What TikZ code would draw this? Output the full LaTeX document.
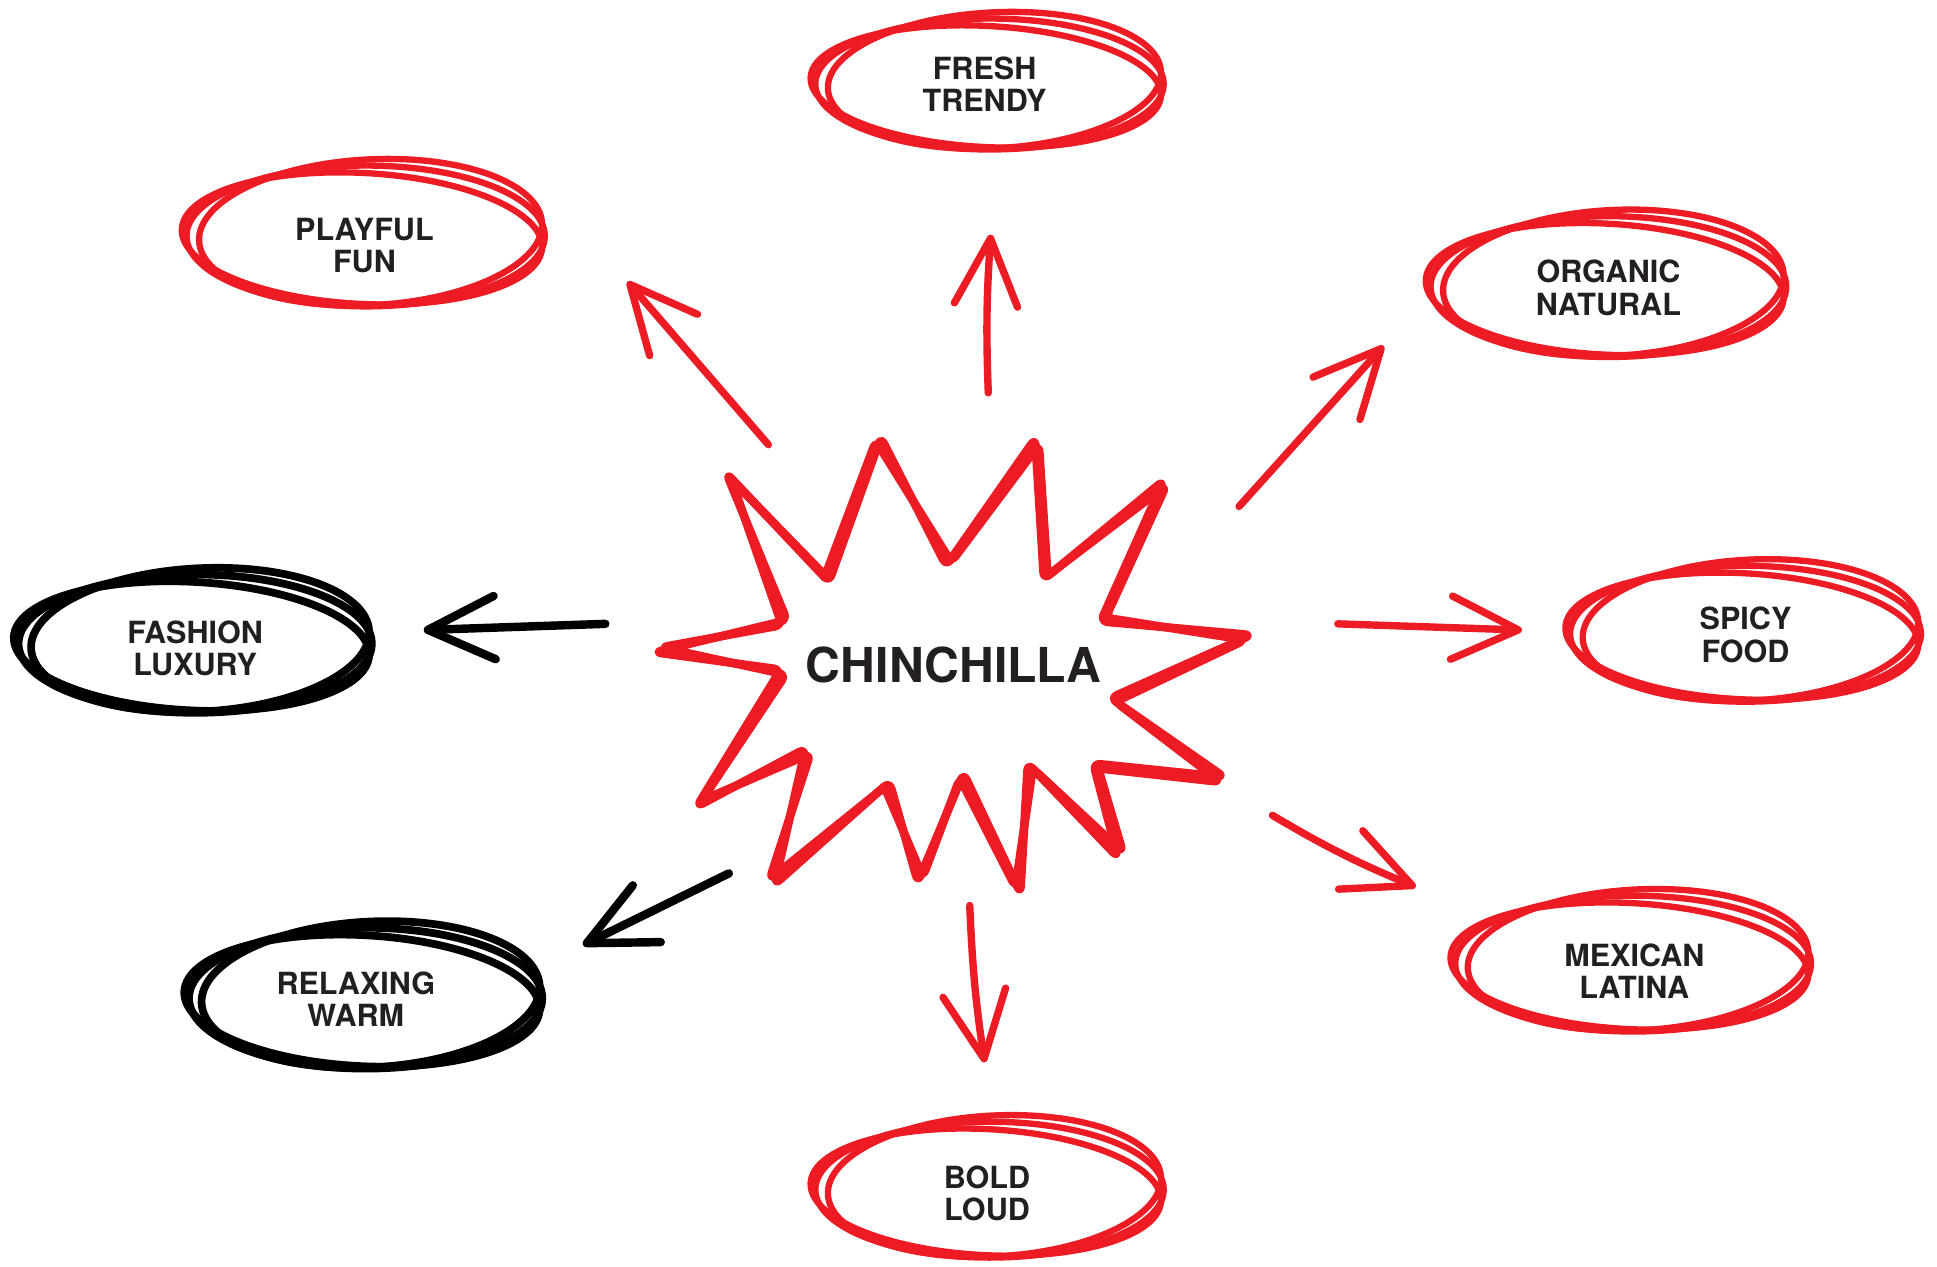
\documentclass[tikz,border=0pt]{standalone}
\usepackage{fontspec}
\setmainfont{TeX Gyre Heros}
\usetikzlibrary{arrows.meta,shapes.geometric,calc}
\definecolor{sred}{RGB}{237,28,36}
\definecolor{tgray}{RGB}{35,31,32}
\newcommand{\uu}{0.012353cm}
\newcommand{\sketchEll}[6]{%
 \draw[#1] ($(#2)+(#3,#4)$) ellipse[x radius={#5*\uu}, y radius={#6*\uu}];
 \draw[#1] ($(#2)+(#3+4,#4-3)$) ellipse[x radius={(#5-6)*\uu}, y radius={(#6+2)*\uu}, rotate=3];
 \draw[#1] ($(#2)+(#3-3,#4+2)$) ellipse[x radius={(#5+1)*\uu}, y radius={(#6-4)*\uu}, rotate=-3];
}
\begin{document}
\begin{tikzpicture}[x=0.012353cm,y=-0.012353cm,
  lbl/.style={font=\fontsize{8.7}{9.2}\selectfont\bfseries, text=tgray, align=center, inner sep=0pt},
  ttl/.style={font=\fontsize{13.7}{15}\selectfont\bfseries, text=tgray, inner sep=0pt},
  rstroke/.style={draw=sred, line width=1.8pt},
  kstroke/.style={draw=black, line width=2.2pt},
  starline/.style={draw=sred, line width=2.4pt, line join=round, rounded corners=2pt},
  arr/.style={line width=2.1pt, line cap=round, line join=round, -{Straight Barb[length=19pt,width=18pt,round]}},
  rarr/.style={arr, draw=sred},
  karr/.style={arr, draw=black, line width=2.4pt}
]
\useasboundingbox (0,0) rectangle (1568,1025);

% labels
\node[ttl] (star) at (772,538) {CHINCHILLA};
\node[lbl] (fresh) at (797,68) {FRESH\\TRENDY};
\node[lbl] (playful) at (295,199) {PLAYFUL\\FUN};
\node[lbl] (organic) at (1302,233) {ORGANIC\\NATURAL};
\node[lbl] (fashion) at (158,525) {FASHION\\LUXURY};
\node[lbl] (spicy) at (1413,514) {SPICY\\FOOD};
\node[lbl] (relaxing) at (288,809) {RELAXING\\WARM};
\node[lbl] (mexican) at (1323,786) {MEXICAN\\LATINA};
\node[lbl] (bold) at (799,966) {BOLD\\LOUD};

% sketched ellipses
\sketchEll{rstroke}{fresh}{4}{0}{141}{53}
\sketchEll{rstroke}{playful}{1}{-8}{145}{57}
\sketchEll{rstroke}{organic}{0}{-1}{144}{57}
\sketchEll{kstroke}{fashion}{0}{-4}{143}{56}
\sketchEll{rstroke}{spicy}{0}{-1}{142}{55}
\sketchEll{kstroke}{relaxing}{8}{-1}{143}{57}
\sketchEll{rstroke}{mexican}{-1}{-6}{144}{55}
\sketchEll{rstroke}{bold}{2}{-3}{141}{55}

% star burst
\draw[starline] (588,383) -- (671,471) -- (713,354) -- (766,458) -- (838,355) -- (845,469) -- (942,389) -- (891,503) -- (1013,514) -- (899,565) -- (991,629) -- (885,618) -- (905,694) -- (832,618) -- (826,723) -- (780,626) -- (743,714) -- (720,633) -- (627,716) -- (652,606) -- (564,653) -- (632,542) -- (530,528) -- (637,502) -- cycle;
\draw[starline] (592,388) -- (668,466) -- (709,357) -- (770,455) -- (841,360) -- (848,466) -- (944,393) -- (895,500) -- (1008,518) -- (903,568) -- (988,633) -- (889,622) -- (909,690) -- (836,622) -- (822,718) -- (777,630) -- (747,710) -- (716,637) -- (623,712) -- (656,610) -- (568,648) -- (636,546) -- (535,524) -- (633,506) -- cycle;

% arrow ends
\coordinate (a1s) at (622,360); \coordinate (a1e) at (508,228);
\coordinate (a2s) at (800,318); \coordinate (a2e) at (802,190);
\coordinate (a3s) at (1003,410); \coordinate (a3e) at (1120,280);
\coordinate (a4s) at (1083,505); \coordinate (a4e) at (1232,510);
\coordinate (a5s) at (1030,660); \coordinate (a5e) at (1146,718);
\coordinate (a6s) at (785,733); \coordinate (a6e) at (797,860);
\coordinate (a7s) at (590,707); \coordinate (a7e) at (472,765);
\coordinate (a8s) at (490,505); \coordinate (a8e) at (343,510);

\draw[rarr] (a1s) -- (a1e);
\draw[rarr] (a2s) to[bend left=3] (a2e);
\draw[rarr] (a3s) -- (a3e);
\draw[rarr] (a4s) -- (a4e);
\draw[rarr] (a5s) to[bend right=4] (a5e);
\draw[rarr] (a6s) to[bend right=3] (a6e);
\draw[karr] (a7s) -- (a7e);
\draw[karr] (a8s) -- (a8e);
\end{tikzpicture}
\end{document}
